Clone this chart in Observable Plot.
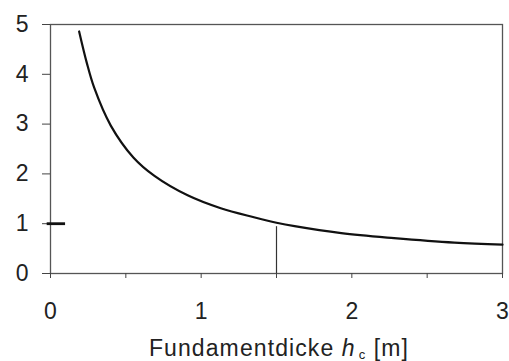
<!DOCTYPE html>
<html>
<head>
<meta charset="utf-8">
<script src="https://cdn.jsdelivr.net/npm/d3@7"></script>
<script src="https://cdn.jsdelivr.net/npm/@observablehq/plot@0.6"></script>
<style>
  html, body { margin: 0; padding: 0; background: #fff; overflow: hidden; }
  #chart svg { display: block; }
</style>
</head>
<body>
<div id="chart"></div>
<script>
// Curve values: thickness h_c [m] vs. y
const thickness = [0.19, 0.24, 0.29, 0.4, 0.55, 0.69, 0.91, 1.13, 1.35, 1.5, 1.62, 1.93, 2.28, 2.68, 3.0];
const values    = [4.86, 4.24, 3.73, 2.97, 2.33, 1.96, 1.57, 1.31, 1.13, 1.02, 0.95, 0.81, 0.71, 0.62, 0.58];

// Tick positions and labels
const xTicks = [0, 0.5, 1, 1.5, 2, 2.5, 3];
const xTickLabels = ["0", "", "1", "", "2", "", "3"];
const yTicks = [0, 1, 2, 3, 4, 5];
const yTickLabels = ["0", "1", "2", "3", "4", "5"];

// Reference marks: vertical line at h_c = 1.5 and the mark at y = 1 on the axis
const refX = [1.5];
const refXTop = 0.94;
const refY = [1];
const refYSpan = [-0.022, 0.1];

const xLabel = "Fundamentdicke";

const data = thickness.map((x, i) => ({x, y: values[i]}));

const font = "'Liberation Sans', Arial, Helvetica, sans-serif";

const chart = Plot.plot({
  width: 509,
  height: 361,
  marginTop: 24,
  marginLeft: 50,
  marginRight: 7,
  marginBottom: 88,
  style: {fontFamily: font, fontSize: "23px", color: "#222", background: "#fff"},
  x: {domain: [0, 3]},
  y: {domain: [0, 5]},
  marks: [
    Plot.frame({stroke: "#555", strokeWidth: 1.3}),
    Plot.axisX({
      ticks: xTicks,
      tickFormat: d => xTickLabels[xTicks.indexOf(d)],
      tickSize: 5,
      tickPadding: 24,
      fontSize: 23,
      stroke: "#444",
      label: null
    }),
    Plot.axisY({
      ticks: yTicks,
      tickFormat: d => yTickLabels[yTicks.indexOf(d)],
      tickSize: 8,
      tickPadding: 14,
      fontSize: 23,
      stroke: "#444",
      label: null
    }),
    Plot.ruleX(refX, {y1: 0, y2: refXTop, stroke: "#333", strokeWidth: 1.2}),
    Plot.ruleY(refY, {x1: refYSpan[0], x2: refYSpan[1], stroke: "#111", strokeWidth: 2.8}),
    Plot.line(data, {x: "x", y: "y", curve: "catmull-rom", stroke: "#111", strokeWidth: 2.2})
  ]
});

const svg = d3.select(chart);
const t = svg.append("text")
  .attr("x", 279)
  .attr("y", 356)
  .attr("text-anchor", "middle")
  .attr("fill", "#222")
  .style("font-family", font)
  .style("font-size", "23px")
  .style("letter-spacing", "1.1px");
t.append("tspan").text(xLabel + " ");
t.append("tspan").attr("font-style", "italic").text("h");
t.append("tspan").attr("dy", 3).attr("dx", 3).style("font-size", "13px").text("c");
t.append("tspan").attr("dy", -3).text(" [m]");

document.getElementById("chart").appendChild(chart);
</script>
</body>
</html>
